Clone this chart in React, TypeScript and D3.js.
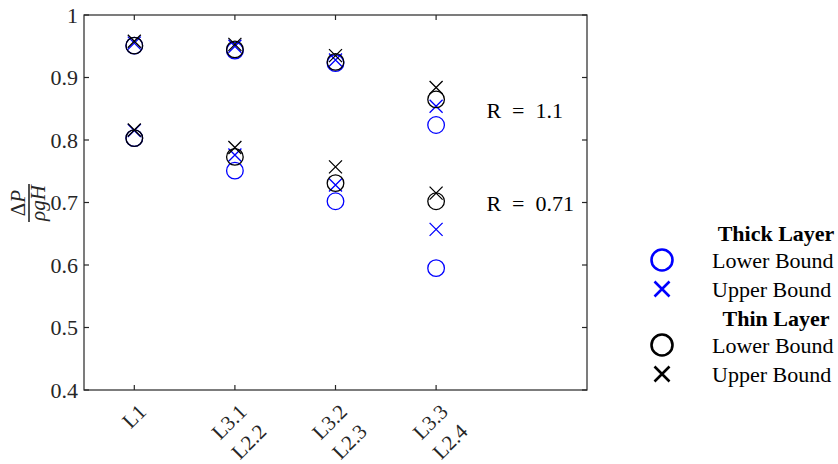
import React from "react";
import { scaleLinear } from "d3";

// categories (one entry per tick, lines stacked)
const categories = [["L1"], ["L3.1", "L2.2"], ["L3.2", "L2.3"], ["L3.3", "L2.4"]];
const yTicks = [0.4, 0.5, 0.6, 0.7, 0.8, 0.9, 1];

// R = 1.1 group
const thickLowerR11 = [0.951, 0.943, 0.923, 0.824];
const thickUpperR11 = [0.955, 0.950, 0.928, 0.854];
const thinLowerR11 = [0.951, 0.945, 0.925, 0.865];
const thinUpperR11 = [0.958, 0.953, 0.935, 0.884];

// R = 0.71 group
const thickLowerR071 = [0.803, 0.751, 0.702, 0.595];
const thickUpperR071 = [0.815, 0.776, 0.728, 0.657];
const thinLowerR071 = [0.803, 0.773, 0.731, 0.702];
const thinUpperR071 = [0.816, 0.788, 0.757, 0.715];

const annotations = [
  { label: "R\u2002=\u20021.1", x: 4.5, y: 0.848 },
  { label: "R\u2002=\u20020.71", x: 4.5, y: 0.699 },
];

const BLUE = "#0000ff";
const BLACK = "#000000";
const AXIS = "#262626";
const FONT = "'Liberation Serif', 'Times New Roman', serif";

const x = scaleLinear().domain([0.5, 5.5]).range([84, 587]);
const y = scaleLinear().domain([0.4, 1]).range([390, 15]);

function Circle({ cx, cy, color, r = 8.3, sw = 1.3 }) {
  return <circle cx={cx} cy={cy} r={r} fill="none" stroke={color} strokeWidth={sw} />;
}

function Cross({ cx, cy, color, s = 6.5, sw = 1.3 }) {
  return (
    <path
      d={`M${cx - s},${cy - s}L${cx + s},${cy + s}M${cx - s},${cy + s}L${cx + s},${cy - s}`}
      stroke={color}
      strokeWidth={sw}
      fill="none"
    />
  );
}

function series(values, color, kind) {
  return values.map((v, i) =>
    kind === "o" ? (
      <Circle key={kind + color + i + v} cx={x(i + 1)} cy={y(v)} color={color} />
    ) : (
      <Cross key={kind + color + i + v} cx={x(i + 1)} cy={y(v)} color={color} />
    )
  );
}

export default function App() {
  const [x0, x1] = x.range();
  const [yb, yt] = y.range();
  const tickLen = 5;

  const legendRows = [
    { kind: "title", text: "Thick Layer", cy: 233 },
    { kind: "o", color: BLUE, text: "Lower Bound", cy: 260 },
    { kind: "x", color: BLUE, text: "Upper Bound", cy: 289 },
    { kind: "title", text: "Thin Layer", cy: 318 },
    { kind: "o", color: BLACK, text: "Lower Bound", cy: 345 },
    { kind: "x", color: BLACK, text: "Upper Bound", cy: 374 },
  ];

  return (
    <svg
      width={838}
      height={464}
      style={{ position: "absolute", left: 0, top: 0, background: "#fff" }}
      fontFamily={FONT}
    >
      <rect width={838} height={464} fill="#fff" />

      {/* markers */}
      {series(thickLowerR11, BLUE, "o")}
      {series(thickUpperR11, BLUE, "x")}
      {series(thickLowerR071, BLUE, "o")}
      {series(thickUpperR071, BLUE, "x")}
      {series(thinLowerR11, BLACK, "o")}
      {series(thinUpperR11, BLACK, "x")}
      {series(thinLowerR071, BLACK, "o")}
      {series(thinUpperR071, BLACK, "x")}

      {/* axes box */}
      <rect x={x0} y={yt} width={x1 - x0} height={yb - yt} fill="none" stroke={AXIS} strokeWidth={1.2} />

      {/* y ticks */}
      {yTicks.map((t) => (
        <g key={"yt" + t}>
          <line x1={x0} x2={x0 + tickLen} y1={y(t)} y2={y(t)} stroke={AXIS} strokeWidth={1.2} />
          <line x1={x1} x2={x1 - tickLen} y1={y(t)} y2={y(t)} stroke={AXIS} strokeWidth={1.2} />
          <text x={x0 - 6} y={y(t)} dy="0.35em" textAnchor="end" fontSize={22} fill={AXIS}>
            {String(t)}
          </text>
        </g>
      ))}

      {/* x ticks */}
      {categories.map((lines, i) => (
        <g key={"xt" + i}>
          <line x1={x(i + 1)} x2={x(i + 1)} y1={yb} y2={yb - tickLen} stroke={AXIS} strokeWidth={1.2} />
          <line x1={x(i + 1)} x2={x(i + 1)} y1={yt} y2={yt + tickLen} stroke={AXIS} strokeWidth={1.2} />
          <g transform={`translate(${x(i + 1) + 13},${413}) rotate(-45)`}>
            {lines.map((l, j) => (
              <text key={l} x={0} y={j * 28} textAnchor="end" fontSize={21} fill={AXIS}>
                {l}
              </text>
            ))}
          </g>
        </g>
      ))}

      {/* y label: fraction */}
      <g transform="translate(29,203) rotate(-90)" fill={AXIS}>
        <text x={0} y={-4} textAnchor="middle" fontSize={21}>
          Δ<tspan fontStyle="italic">P</tspan>
        </text>
        <line x1={-19} x2={19} y1={0} y2={0} stroke={AXIS} strokeWidth={1.6} />
        <text x={0} y={16} textAnchor="middle" fontSize={21} fontStyle="italic">
          ρgH
        </text>
      </g>

      {/* annotations */}
      {annotations.map((a) => (
        <text key={a.label} x={x(a.x)} y={y(a.y)} dy="0.35em" fontSize={22} fill={BLACK}>
          {a.label}
        </text>
      ))}

      {/* legend */}
      {legendRows.map((r) =>
        r.kind === "title" ? (
          <text key={r.text + r.cy} x={776} y={r.cy} dy="0.35em" textAnchor="middle" fontSize={22} fontWeight="bold">
            {r.text}
          </text>
        ) : (
          <g key={r.text + r.cy}>
            {r.kind === "o" ? (
              <Circle cx={662} cy={r.cy} color={r.color} r={10.5} sw={2.6} />
            ) : (
              <Cross cx={662} cy={r.cy} color={r.color} s={7.5} sw={2.6} />
            )}
            <text x={712} y={r.cy} dy="0.35em" fontSize={22} fill={BLACK}>
              {r.text}
            </text>
          </g>
        )
      )}
    </svg>
  );
}
